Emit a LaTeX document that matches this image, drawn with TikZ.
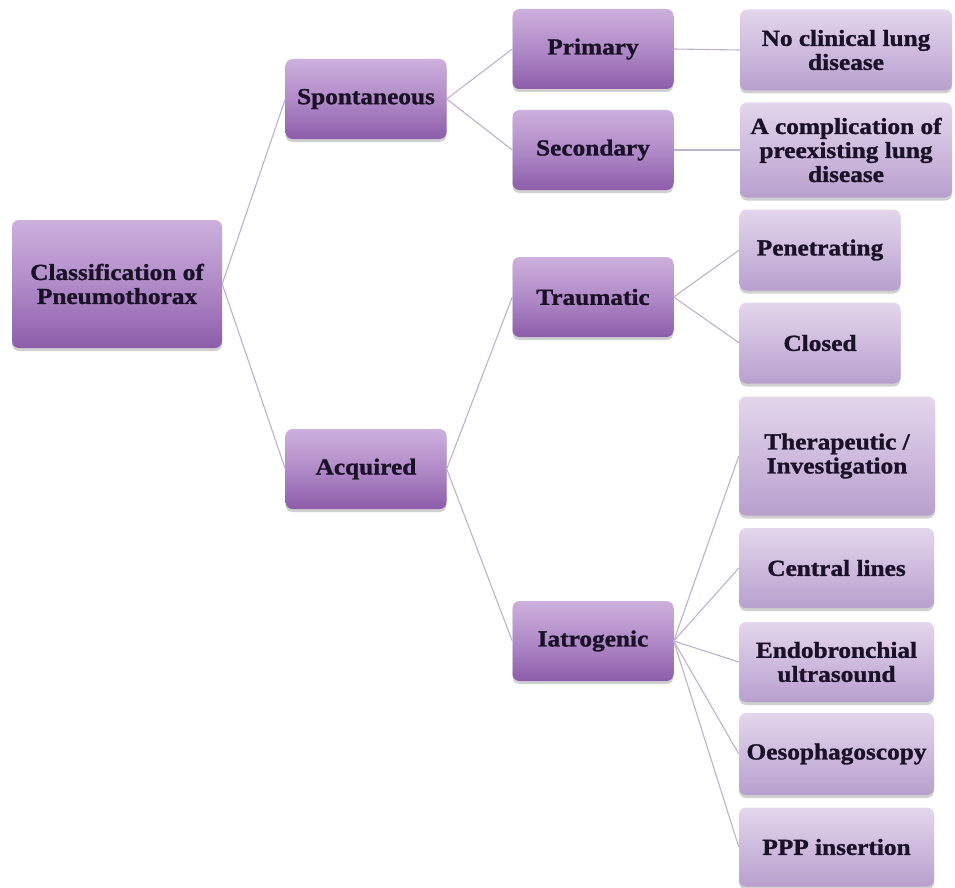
\documentclass[tikz,border=0pt]{standalone}
\usepackage{fontspec}
\setmainfont[FakeStretch=1.1, BoldFeatures={FakeBold=1.2}]{Liberation Serif}
\usetikzlibrary{shadows}
\definecolor{ptop}{HTML}{CDB0DE}
\definecolor{pbot}{HTML}{8D5DAB}
\definecolor{ltop}{HTML}{E4D6EC}
\definecolor{lbot}{HTML}{B8A0CE}
\definecolor{txt}{HTML}{1A1028}
\definecolor{conn}{HTML}{BFB2CE}
\tikzset{
  box/.style={rectangle, rounded corners=7pt, align=center, inner sep=2pt,
    font=\fontsize{23}{24}\selectfont\bfseries, text=txt,
    drop shadow={shadow xshift=0pt, shadow yshift=-3pt, opacity=0.3, fill=black!60}},
  par/.style={box, top color=ptop, bottom color=pbot, middle color=ptop!55!pbot},
  leaf/.style={box, top color=ltop, bottom color=lbot},
  link/.style={draw=conn, line width=1.1pt}
}
\begin{document}
\begin{tikzpicture}[x=1pt,y=-1pt]
\useasboundingbox[fill=white] (0,0) rectangle (955,888);
% level 0
\node[par, minimum width=210pt, minimum height=128pt] (root) at (117,284) {Classification of\\Pneumothorax};
% level 1
\node[par, minimum width=161pt, minimum height=80pt] (spont) at (366,99) {Spontaneous};
\node[par, minimum width=161pt, minimum height=80pt] (acq) at (366,469) {Acquired};
% level 2
\node[par, minimum width=161pt, minimum height=80pt] (prim) at (593,49) {Primary};
\node[par, minimum width=161pt, minimum height=80pt] (sec) at (593,150) {Secondary};
\node[par, minimum width=161pt, minimum height=80pt] (trau) at (593,297) {Traumatic};
\node[par, minimum width=161pt, minimum height=80pt] (iatr) at (593,641) {Iatrogenic};
% leaves
\node[leaf, minimum width=212pt, minimum height=81pt] (noclin) at (846,50) {No clinical lung\\disease};
\node[leaf, minimum width=212pt, minimum height=95pt] (compl) at (846,150) {A complication of\\preexisting lung\\disease};
\node[leaf, minimum width=161pt, minimum height=81pt] (pen) at (820,250) {Penetrating};
\node[leaf, minimum width=161pt, minimum height=81pt] (clos) at (820,343) {Closed};
\node[leaf, minimum width=196pt, minimum height=119pt] (ther) at (837,456) {Therapeutic /\\Investigation};
\node[leaf, minimum width=195pt, minimum height=80pt] (cent) at (836.5,568) {Central lines};
\node[leaf, minimum width=195pt, minimum height=80pt] (endo) at (836.5,662) {Endobronchial\\ultrasound};
\node[leaf, minimum width=195pt, minimum height=82pt] (oeso) at (836.5,754) {Oesophagoscopy};
\node[leaf, minimum width=195pt, minimum height=79pt] (ppp) at (836.5,847) {PPP insertion};
% connectors
\draw[link] (root.east) -- (spont.west);
\draw[link] (root.east) -- (acq.west);
\draw[link] (spont.east) -- (prim.west);
\draw[link] (spont.east) -- (sec.west);
\draw[link] (acq.east) -- (trau.west);
\draw[link] (acq.east) -- (iatr.west);
\draw[link] (prim.east) -- (noclin.west);
\draw[link] (sec.east) -- (compl.west);
\draw[link] (trau.east) -- (pen.west);
\draw[link] (trau.east) -- (clos.west);
\draw[link] (iatr.east) -- (ther.west);
\draw[link] (iatr.east) -- (cent.west);
\draw[link] (iatr.east) -- (endo.west);
\draw[link] (iatr.east) -- (oeso.west);
\draw[link] (iatr.east) -- (ppp.west);
\end{tikzpicture}
\end{document}
